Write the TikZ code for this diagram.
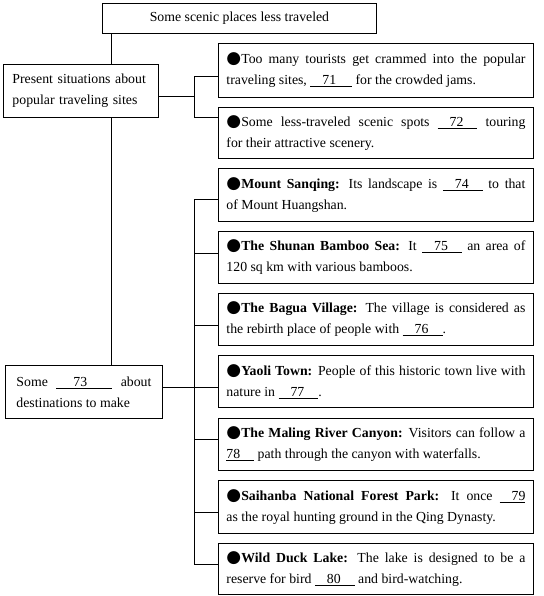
\documentclass[tikz,border=0pt]{standalone}
\usepackage{fontspec}
\setmainfont{Liberation Serif}
\newfontfamily\dejavu{DejaVu Sans}
\newcommand\bul{{\dejavu\fontsize{17}{21}\selectfont ●}}
\newcommand\blank[3]{\underline{\hspace{#1}#2\hspace{#3}}}
\tikzset{
  txt/.style={font=\fontsize{13.8}{21}\selectfont},
  rbox/.style={txt, draw, line width=0.9pt, anchor=north west, inner sep=0pt,
    minimum width=315pt, minimum height=52pt, text width=299pt, align=justify},
  lbox/.style={txt, draw, line width=0.9pt, anchor=north west, inner sep=0pt,
    minimum height=53pt},
  conn/.style={line width=0.9pt},
}
\begin{document}
\begin{tikzpicture}[x=1pt,y=-1pt]
\useasboundingbox (0,0) rectangle (543,596);
% top and left boxes
\node[lbox, minimum width=274pt, minimum height=30pt] (top) at (102,3) {Some scenic places less traveled};
\node[lbox, minimum width=155pt, text width=137pt, align=left] (lb1) at (3,64) {Present situations about\\popular traveling sites};
\node[lbox, minimum width=157pt, text width=135pt, align=justify] (lb2) at (5,365) {Some \blank{17pt}{73}{25pt} about\linebreak destinations to make};
% right boxes
\node[rbox, minimum height=54pt] (A) at (218,43) {\bul Too many tourists get crammed into the popular\linebreak traveling sites, \blank{12pt}{71}{16pt} for the crowded jams.};
\node[rbox, minimum height=51pt] (B) at (218,107) {\bul Some less-traveled scenic spots \blank{12pt}{72}{14pt} touring\linebreak for their attractive scenery.};
\node[rbox, minimum height=53pt] (C) at (218,168) {\bul\textbf{Mount Sanqing:} Its landscape is \blank{12pt}{74}{14pt} to that\linebreak of Mount Huangshan.};
\node[rbox] (D) at (218,231) {\bul\textbf{The Shunan Bamboo Sea:} It \blank{12pt}{75}{14pt} an area of\linebreak 120 sq km with various bamboos.};
\node[rbox] (E) at (218,293) {\bul\textbf{The Bagua Village:} The village is considered as\linebreak the rebirth place of people with \blank{12pt}{76}{14pt}.};
\node[rbox] (F) at (218,355) {\bul\textbf{Yaoli Town:} People of this historic town live with\linebreak nature in \blank{12pt}{77}{14pt}.};
\node[rbox] (G) at (218,418) {\bul\textbf{The Maling River Canyon:} Visitors can follow a\linebreak \blank{0pt}{78}{14pt} path through the canyon with waterfalls.};
\node[rbox, minimum height=53pt] (H) at (218,480) {\bul\textbf{Saihanba National Forest Park:} It once \blank{12pt}{79}{0pt}\linebreak as the royal hunting ground in the Qing Dynasty.};
\node[rbox, minimum height=51pt] (I) at (218,543) {\bul\textbf{Wild Duck Lake:} The lake is designed to be a\linebreak reserve for bird \blank{12pt}{80}{14pt} and bird-watching.};
% connector coordinates
\coordinate (v) at (111,0);
\coordinate (j1) at (194,96);
\coordinate (tA) at (194,76);
\coordinate (tB) at (194,117);
\coordinate (tC) at (194,199);
\coordinate (tD) at (194,253);
\coordinate (tE) at (194,325);
\coordinate (tF) at (194,387);
\coordinate (tG) at (194,439);
\coordinate (tH) at (194,512);
\coordinate (tI) at (194,564);
% connectors
\draw[conn] (top.south -| v) -- (lb1.north -| v);
\draw[conn] (lb1.south -| v) -- (lb2.north -| v);
\draw[conn] (lb1.east |- j1) -- (j1);
\draw[conn] (tA -| A.west) -- (tA) -- (tB) -- (tB -| B.west);
\draw[conn] (tC -| C.west) -- (tC) -- (tI) -- (tI -| I.west);
\draw[conn] (lb2.east |- tF) -- (tF -| F.west);
\draw[conn] (tD) -- (tD -| D.west);
\draw[conn] (tE) -- (tE -| E.west);
\draw[conn] (tG) -- (tG -| G.west);
\draw[conn] (tH) -- (tH -| H.west);
\end{tikzpicture}
\end{document}
